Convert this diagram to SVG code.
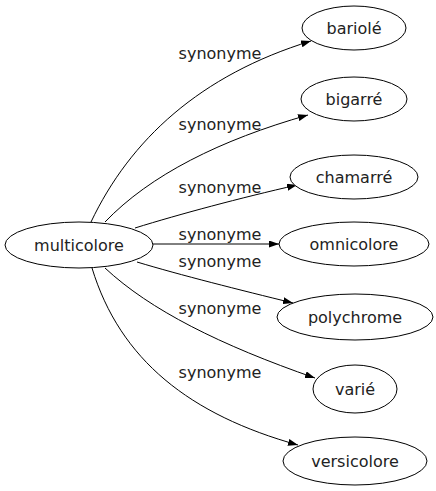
<svg xmlns="http://www.w3.org/2000/svg" width="436" height="491" viewBox="0 0 436 491">
<style>
.n ellipse{fill:#fff;stroke:#000;stroke-width:1}
.n text,.lbl{font-family:"DejaVu Sans",sans-serif;font-size:16px;fill:#222}
.n text{text-anchor:middle}
.lbl{text-anchor:middle}
.e path{fill:none;stroke:#000;stroke-width:1;marker-end:url(#ah)}
</style>
<defs>
<marker id="ah" viewBox="0 0 10 7" refX="10" refY="3.5" markerWidth="10" markerHeight="7" markerUnits="userSpaceOnUse" orient="auto">
<path d="M0,0 L10,3.5 L0,7 z" fill="#000"/>
</marker>
</defs>
<rect width="436" height="491" fill="#fff"/>
<g id="edges" class="e">
<path d="M91,222 C130,140 200,75 311,41"/>
<path d="M105,222 C150,175 220,140 308,115"/>
<path d="M135,228 C180,214 240,198 297,185"/>
<path d="M153,244 L279,244"/>
<path d="M137,262 C180,275 240,290 293,303"/>
<path d="M105,268 C150,310 220,345 315,378"/>
<path d="M92,268 C120,360 190,415 298,445"/>
</g>
<g id="labels">
<text class="lbl" x="220" y="59">synonyme</text>
<text class="lbl" x="220" y="130">synonyme</text>
<text class="lbl" x="220" y="193">synonyme</text>
<text class="lbl" x="220" y="240">synonyme</text>
<text class="lbl" x="220" y="267">synonyme</text>
<text class="lbl" x="220" y="314">synonyme</text>
<text class="lbl" x="220" y="378">synonyme</text>
</g>
<g id="multicolore" class="n"><ellipse cx="79" cy="245" rx="74" ry="23"/><text x="79" y="251">multicolore</text></g>
<g id="bariole" class="n"><ellipse cx="354" cy="28" rx="52" ry="22"/><text x="354" y="34">bariolé</text></g>
<g id="bigarre" class="n"><ellipse cx="354" cy="99" rx="53" ry="22"/><text x="354" y="105">bigarré</text></g>
<g id="chamarre" class="n"><ellipse cx="354" cy="177" rx="64" ry="22"/><text x="354" y="183">chamarré</text></g>
<g id="omnicolore" class="n"><ellipse cx="354" cy="244" rx="75" ry="22"/><text x="354" y="250">omnicolore</text></g>
<g id="polychrome" class="n"><ellipse cx="355" cy="317" rx="78" ry="23"/><text x="355" y="323">polychrome</text></g>
<g id="varie" class="n"><ellipse cx="355" cy="389" rx="42" ry="24"/><text x="355" y="395">varié</text></g>
<g id="versicolore" class="n"><ellipse cx="355" cy="461" rx="72" ry="24"/><text x="355" y="467">versicolore</text></g>
</svg>
